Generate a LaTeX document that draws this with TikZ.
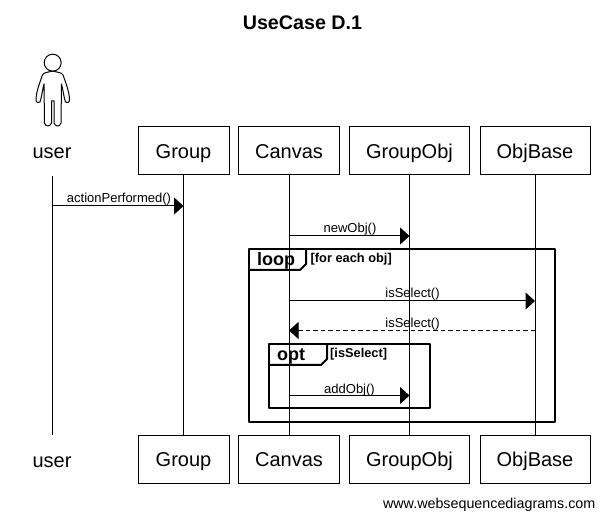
\documentclass[tikz,border=0pt]{standalone}
\usepackage{fontspec}
\setmainfont{Liberation Sans}
\usetikzlibrary{arrows.meta}
\newcommand{\msgfont}{\fontsize{13}{15}\selectfont}
\newcommand{\boxfont}{\fontsize{20}{24}\selectfont}
\tikzset{
  objbox/.style={draw,line width=1pt,minimum height=48pt,inner sep=0pt,font=\boxfont,text height=14.4pt,text depth=0pt},
  usrlabel/.style={font=\boxfont,inner sep=0pt,text height=14.4pt,text depth=0pt},
  life/.style={line width=1pt},
  msg/.style={line width=1pt,-{Triangle[length=9.5pt,width=17pt]}},
  msgback/.style={msg,dash pattern=on 4.5pt off 3pt},
  msglabel/.style={font=\msgfont,inner sep=0pt,anchor=base},
  frame/.style={draw,line width=2pt,line join=round},
  framename/.style={font=\bfseries\fontsize{18}{20}\selectfont,inner sep=0pt,anchor=base},
  framecond/.style={font=\bfseries\fontsize{12.8}{14}\selectfont,inner sep=0pt,anchor=base west}
}
\begin{document}
\begin{tikzpicture}[x=1pt,y=-1pt]
\useasboundingbox (0,0) rectangle (605,518);
\node[font=\bfseries\fontsize{19.7}{24}\selectfont,inner sep=0pt] (title) at (302.5,23) {UseCase D.1};
% actor
\node[circle,draw,line width=1pt,minimum size=17pt,inner sep=0pt] (head) at (52.7,62.7) {};
\draw[line width=1pt,line join=round] (52.7,71) .. controls (48,72.5) and (44,72) .. (42.5,75)
  .. controls (40,82) and (36,92) .. (36,100) .. controls (36,103) and (39,103) .. (40,102)
  .. controls (41.5,98) and (42,92) .. (44,84) -- (44.5,123) .. controls (45.5,127) and (50,127) .. (51.5,123)
  -- (51.5,101) -- (54,101) -- (54,123) .. controls (55.5,127) and (60,127) .. (61,123)
  -- (61.5,84) .. controls (63.5,92) and (64,98) .. (65.5,102) .. controls (66.5,103) and (69.5,103) .. (69.5,100)
  .. controls (69.5,92) and (65.5,82) .. (63,75) .. controls (61.5,72) and (57,72.5) .. (52.7,71);
% top row
\node[usrlabel] (user) at (52,151) {user};
\node[objbox,minimum width=91pt] (group) at (183.5,151) {Group};
\node[objbox,minimum width=101pt] (canvas) at (289,151) {Canvas};
\node[objbox,minimum width=120pt] (groupobj) at (409.5,151) {GroupObj};
\node[objbox,minimum width=110pt] (objbase) at (535,151) {ObjBase};
% bottom row
\node[usrlabel] (user2) at (52,460) {user};
\node[objbox,minimum width=91pt] (group2) at (183.5,459.5) {Group};
\node[objbox,minimum width=101pt] (canvas2) at (289,459.5) {Canvas};
\node[objbox,minimum width=120pt] (groupobj2) at (409.5,459.5) {GroupObj};
\node[objbox,minimum width=110pt] (objbase2) at (535,459.5) {ObjBase};
\node[font=\fontsize{14.3}{16}\selectfont,inner sep=0pt,anchor=base east] (site) at (595.5,508) {www.websequencediagrams.com};
% lifelines
\coordinate (usertop) at (52.5,176);
\coordinate (userend) at (52.5,435);
\draw[life] (usertop) -- (userend);
\draw[life] (group.south) -- (group2.north);
\draw[life] (canvas.south) -- (canvas2.north);
\draw[life] (groupobj.south) -- (groupobj2.north);
\draw[life] (objbase.south) -- (objbase2.north);
% messages
\coordinate (a1) at (52.5,206);
\coordinate (b1) at (183.5,206);
\coordinate (a2) at (289,236);
\coordinate (b2) at (409.5,236);
\coordinate (a3) at (289,301);
\coordinate (b3) at (535,301);
\coordinate (a4) at (535,330.5);
\coordinate (b4) at (289,330.5);
\coordinate (a5) at (289,395.5);
\coordinate (b5) at (409.5,395.5);
\draw[msg] (a1) -- (b1);
\draw[msg] (a2) -- (b2);
\draw[msg] (a3) -- (b3);
\draw[msgback] (a4) -- (b4);
\draw[msg] (a5) -- (b5);
\node[msglabel] (lab1) at (119,203) {actionPerformed()};
\node[msglabel] (lab2) at (350,233) {newObj()};
\node[msglabel] (lab3) at (412.5,298) {isSelect()};
\node[msglabel] (lab4) at (412.5,327.5) {isSelect()};
\node[msglabel] (lab5) at (349.5,393) {addObj()};
% frames
\draw[frame] (249,249) rectangle (555,422);
\draw[frame] (249,270) -- (300,270) -- (306,264) -- (306,249);
\node[framename] (loopname) at (276,266) {loop};
\node[framecond] (loopcond) at (310.5,262.5) {[for each obj]};
\draw[frame] (269,344) rectangle (430,408);
\draw[frame] (269,365) -- (321,365) -- (327,359) -- (327,344);
\node[framename] (optname) at (291,361) {opt};
\node[framecond] (optcond) at (330,357.5) {[isSelect]};
\end{tikzpicture}
\end{document}
